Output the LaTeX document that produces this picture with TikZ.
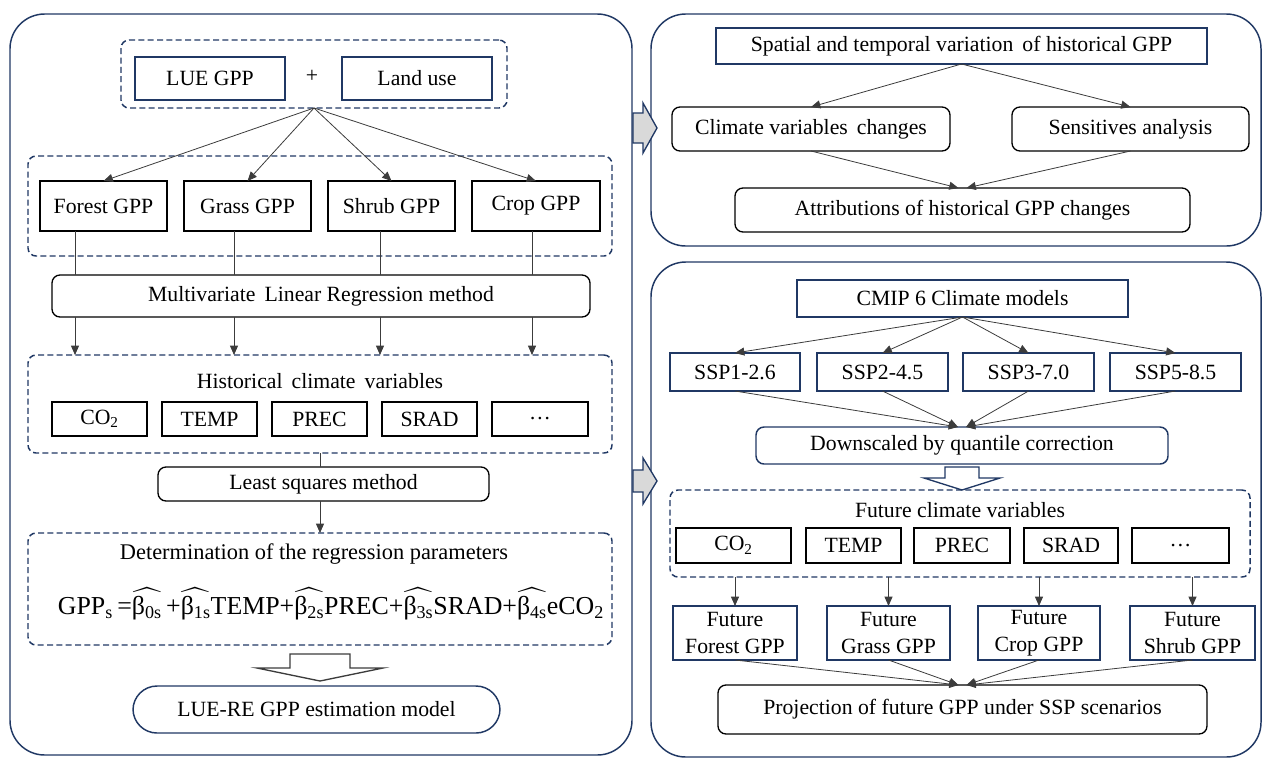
\documentclass[tikz,border=0pt]{standalone}
\usepackage{fontspec}
\setmainfont{Liberation Serif}
\usepackage{amsmath}
\usetikzlibrary{arrows.meta,calc}
\definecolor{navy}{RGB}{32,56,100}
\definecolor{arrowgray}{RGB}{217,217,217}
\definecolor{linkgray}{RGB}{60,60,60}
\newcommand{\fs}{\fontsize{16.3}{20}\selectfont}
\newcommand{\hb}[1]{$\widehat{\mbox{β\textsubscript{#1}}}$}
% \bx{style}{name}{x1}{y1}{x2}{y2}{text}
\newcommand{\bx}[7]{%
  \pgfmathsetmacro\bxcx{(#3+#5)/2}%
  \pgfmathsetmacro\bxcy{(#4+#6)/2}%
  \pgfmathsetmacro\bxw{(#5-#3)*0.75}%
  \pgfmathsetmacro\bxh{(#6-#4)*0.75}%
  \node[#1, minimum width=\bxw pt, minimum height=\bxh pt] (#2) at (\bxcx,\bxcy) {#7};}
\begin{document}
\begin{tikzpicture}[x=0.75pt,y=-0.75pt,
  panel/.style={draw=navy, line width=1.1pt, rounded corners=26pt},
  group/.style={draw=navy, line width=1.1pt, rounded corners=6pt, inner sep=0pt, outer sep=0pt, dash pattern=on 4.5pt off 2.5pt},
  nbox/.style={draw=navy, line width=1.1pt, inner sep=0pt, outer sep=0pt, font=\fs, align=center},
  bbox/.style={draw=black, line width=1pt, inner sep=0pt, outer sep=0pt, font=\fs, align=center},
  rbox/.style={bbox, rounded corners=6pt},
  rnbox/.style={nbox, rounded corners=6pt},
  txt/.style={font=\fs, inner sep=1pt},
  link/.style={draw=linkgray, line width=0.6pt},
  arr/.style={link, -{Triangle[length=7pt,width=6pt]}},
  hollow/.style={draw=linkgray, line width=1pt, fill=white},
  grayarr/.style={draw=navy, line width=1pt, fill=arrowgray}
]
\useasboundingbox (0,0) rectangle (1263,758);

% ---------- panels ----------
\draw[panel] (10,14) rectangle (632,755);
\draw[panel] (651,14) rectangle (1261,246);
\draw[panel] (651,262) rectangle (1261,757);

% ---------- gray connecting arrows ----------
\draw[grayarr] (633,113) -- (643,113) -- (643,103) -- (657,128) -- (643,153) -- (643,143) -- (633,143) -- cycle;
\draw[grayarr] (633,470) -- (643,470) -- (643,458) -- (657,481) -- (643,504) -- (643,492) -- (633,492) -- cycle;

% ---------- left panel ----------
\bx{group}{g1}{121}{40}{507}{108}{}
\bx{nbox}{lue}{135}{57}{285}{100}{LUE GPP}
\node[txt] (plus) at (312,76) {+};
\bx{nbox}{land}{342}{57}{492}{100}{Land use}

\bx{group}{g2}{28}{156}{612}{256}{}
\bx{bbox}{forest}{40}{181}{167}{231}{Forest GPP}
\bx{bbox}{grass}{184}{181}{311}{231}{Grass GPP}
\bx{bbox}{shrub}{328}{181}{455}{231}{Shrub GPP}
\bx{bbox}{crop}{472}{181}{600}{231}{Crop GPP}

\draw[arr] (g1.south) -- (forest.north);
\draw[arr] (g1.south) -- (grass.north);
\draw[arr] (g1.south) -- (shrub.north);
\draw[arr] (g1.south) -- (crop.north);

\bx{rbox}{mlr}{52}{275}{590}{317}{Multivariate\, Linear Regression method}

\coordinate (c1) at (75,0);
\coordinate (c2) at (234,0);
\coordinate (c3) at (380,0);
\coordinate (c4) at (532,0);

\bx{group}{hist}{28}{355}{612}{453}{}
\node[txt] (histt) at (320,381) {Historical\, climate\, variables};
\bx{bbox}{hco}{52}{402}{147}{436}{CO\textsubscript{2}}
\bx{bbox}{htemp}{162}{402}{257}{436}{TEMP}
\bx{bbox}{hprec}{272}{402}{367}{436}{PREC}
\bx{bbox}{hsrad}{382}{402}{477}{436}{SRAD}
\bx{bbox}{hdots}{492}{402}{588}{436}{…}

\draw[link] (forest.south -| c1) -- (mlr.north -| c1);
\draw[link] (grass.south -| c2) -- (mlr.north -| c2);
\draw[link] (shrub.south -| c3) -- (mlr.north -| c3);
\draw[link] (crop.south -| c4) -- (mlr.north -| c4);
\draw[arr] (mlr.south -| c1) -- (hist.north -| c1);
\draw[arr] (mlr.south -| c2) -- (hist.north -| c2);
\draw[arr] (mlr.south -| c3) -- (hist.north -| c3);
\draw[arr] (mlr.south -| c4) -- (hist.north -| c4);

\bx{rbox}{ls}{158}{467}{489}{501}{Least squares method}
\coordinate (c5) at (320,0);
\draw[link] (hist.south -| c5) -- (ls.north -| c5);

\bx{group}{det}{28}{533}{612}{645}{}
\draw[arr] (ls.south -| c5) -- (det.north -| c5);
\node[txt, font=\fontsize{16.8}{20}\selectfont] (dett) at (314,554) {Determination of the regression parameters};
\node[inner sep=0pt] (formula) at (331,604) {\fontsize{19.4}{24}\selectfont GPP\textsubscript{s}\,=\hb{0s}\,+\hb{1s}TEMP+\hb{2s}PREC+\hb{3s}SRAD+\hb{4s}eCO\textsubscript{2}};

\draw[hollow] (290,654) -- (350,654) -- (350,668) -- (383,668) -- (320,681) -- (257,668) -- (290,668) -- cycle;

\bx{rnbox, rounded corners=18pt}{luere}{133}{686}{500}{733}{LUE-RE GPP estimation model}

% ---------- right top panel ----------
\bx{nbox}{spatial}{716}{28}{1207}{64}{Spatial and temporal variation\, of historical GPP}
\bx{rbox}{clim}{672}{107}{950}{151}{Climate variables\, changes}
\bx{rbox}{sens}{1012}{107}{1249}{151}{Sensitives analysis}
\bx{rbox}{attr}{735}{188}{1190}{232}{Attributions of historical GPP changes}

\draw[arr] (spatial.south) -- (clim.north);
\draw[arr] (spatial.south) -- (sens.north);
\draw[arr] (clim.south) -- ($(attr.north)+(-4,0)$);
\draw[arr] (sens.south) -- ($(attr.north)+(4,0)$);

% ---------- right bottom panel ----------
\bx{nbox}{cmip}{797}{280}{1128}{317}{CMIP 6 Climate models}
\bx{nbox}{ssp1}{670}{353}{800}{391}{SSP1-2.6}
\bx{nbox}{ssp2}{817}{353}{948}{391}{SSP2-4.5}
\bx{nbox}{ssp3}{963}{353}{1094}{391}{SSP3-7.0}
\bx{nbox}{ssp5}{1110}{353}{1241}{391}{SSP5-8.5}

\draw[arr] (cmip.south) -- (ssp1.north);
\draw[arr] (cmip.south) -- (ssp2.north);
\draw[arr] (cmip.south) -- (ssp3.north);
\draw[arr] (cmip.south) -- (ssp5.north);

\bx{rnbox}{down}{756}{427}{1168}{464}{Downscaled by quantile correction}
\draw[arr] (ssp1.south) -- ($(down.north)+(-4,0)$);
\draw[arr] (ssp2.south) -- ($(down.north)+(-4,0)$);
\draw[arr] (ssp3.south) -- ($(down.north)+(4,0)$);
\draw[arr] (ssp5.south) -- ($(down.north)+(4,0)$);

\draw[hollow, draw=navy] (945,467) -- (979,467) -- (979,478) -- (1000,478) -- (962,490) -- (924,478) -- (945,478) -- cycle;

\bx{group}{fcv}{670}{490}{1250}{577}{}
\node[txt] (fcvt) at (960,510) {Future climate variables};
\bx{bbox}{fco}{676}{528}{791}{563}{CO\textsubscript{2}}
\bx{bbox}{ftemp}{806}{528}{901}{563}{TEMP}
\bx{bbox}{fprec}{914}{528}{1010}{563}{PREC}
\bx{bbox}{fsrad}{1024}{528}{1118}{563}{SRAD}
\bx{bbox}{fdots}{1132}{528}{1229}{563}{…}

\bx{nbox}{ffor}{673}{606}{797}{660}{Future\\Forest GPP}
\bx{nbox}{fgra}{827}{606}{950}{660}{Future\\Grass GPP}
\bx{nbox}{fcro}{978}{606}{1100}{660}{Future\\Crop GPP}
\bx{nbox}{fshr}{1130}{606}{1255}{660}{Future\\Shrub GPP}

\draw[arr] (fcv.south -| ffor.north) -- (ffor.north);
\draw[arr] (fcv.south -| fgra.north) -- (fgra.north);
\draw[arr] (fcv.south -| fcro.north) -- (fcro.north);
\draw[arr] (fcv.south -| fshr.north) -- (fshr.north);

\bx{rbox}{proj}{718}{685}{1207}{734}{Projection of future GPP under SSP scenarios}
\draw[arr] (ffor.south) -- ($(proj.north)+(-4,0)$);
\draw[arr] (fgra.south) -- ($(proj.north)+(-4,0)$);
\draw[arr] (fcro.south) -- ($(proj.north)+(4,0)$);
\draw[arr] (fshr.south) -- ($(proj.north)+(4,0)$);
\end{tikzpicture}
\end{document}
